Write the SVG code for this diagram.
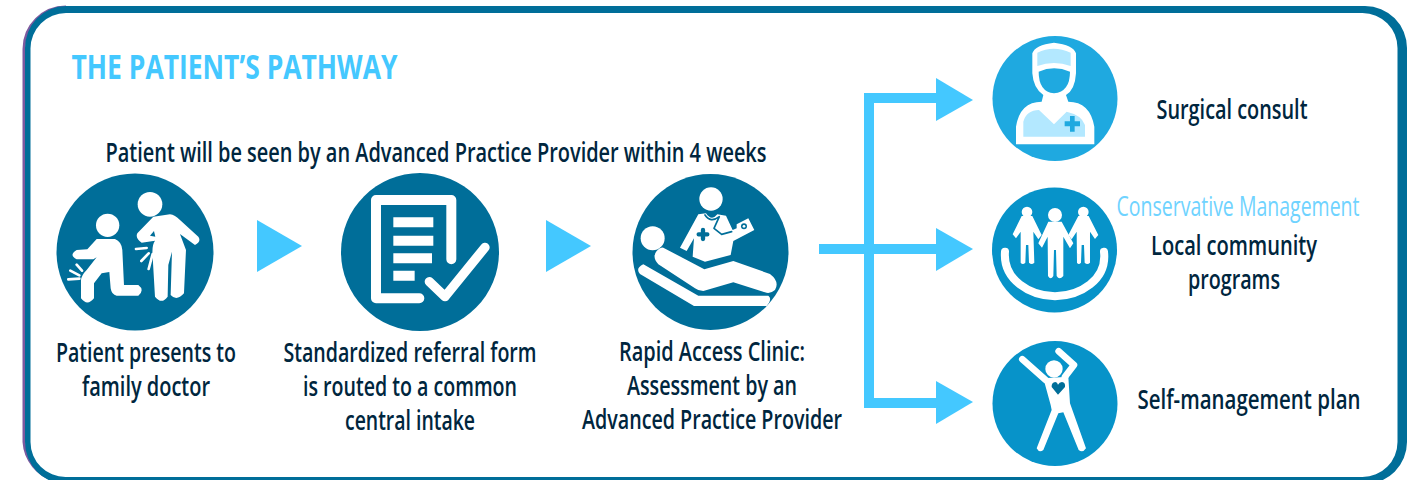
<svg xmlns="http://www.w3.org/2000/svg" width="1417" height="480" viewBox="0 0 1417 480">
<style>
text{font-family:"Open Sans","Liberation Sans",sans-serif;font-size:27px;font-weight:600;fill:#00263e;text-anchor:middle}
.w{fill:#fff}.t{fill:#006e99}.ws{fill:none;stroke:#fff;stroke-linecap:round;stroke-linejoin:round}
.ts{fill:none;stroke:#006e99;stroke-linecap:round;stroke-linejoin:round}
.a{fill:#44c8ff}.l{fill:#b3e8ff}
</style>
<g id="frame">
<path d="M66,7A42,42 0 0 0 24,49V442A42,42 0 0 0 55,480" fill="none" stroke="#7d5a9f" stroke-width="3"/>
<path fill="#006e99" fill-rule="evenodd" d="M66,6H1365A42,42 0 0 1 1407,48V442A42,42 0 0 1 1365,484H66A41,42 0 0 1 25,442V48A41,42 0 0 1 66,6ZM66,13A35.500,35.500 0 0 0 30.500,48.500V442A35,35 0 0 0 65.500,477H1362.500A35,35 0 0 0 1397.500,442V48A35,35 0 0 0 1362.500,13Z"/>
</g>
<text id="title" x="234.500" y="79" textLength="326" lengthAdjust="spacingAndGlyphs" style="font-size:34px;font-weight:700;fill:#44c8ff">THE PATIENT’S PATHWAY</text>
<text id="subtitle" x="436" y="162" textLength="661" lengthAdjust="spacingAndGlyphs">Patient will be seen by an Advanced Practice Provider within 4 weeks</text>
<g id="connectors">
<polygon class="a" points="257,220 302,246 257,272"/>
<polygon class="a" points="546,220 591,246 546,272"/>
<path d="M819,249H940M940,98H869V403H940" fill="none" stroke="#44c8ff" stroke-width="10"/>
<polygon class="a" points="936,78 973,100 936,121"/>
<polygon class="a" points="936,228 973,249 936,271"/>
<polygon class="a" points="936,381 973,402 936,424"/>
</g>
<g id="node-doctor">
<circle class="t" cx="135" cy="252" r="78.500"/>
<g transform="translate(0,170) scale(.3333)">
<circle class="w" cx="323" cy="166" r="35"/><circle class="w" cx="450" cy="103" r="37"/>
<path class="w" d="M290,207L345,207Q365,215 367,240L372,345L415,345Q435,360 415,377L350,377Q335,375 332,355L328,306L305,310L282,340L282,385Q262,410 243,385L243,330Q245,315 260,300L290,262L280,268L230,268Q205,255 230,240L262,238Z"/>
<path class="w" d="M460,140L510,133Q525,135 540,150L595,200Q605,215 585,225L540,192L558,240L552,370Q530,395 512,375L516,245L505,285L503,380Q485,405 465,380L458,260Q455,225 465,212L425,218Q405,205 412,190Z"/>
<path class="t" d="M462,183L450,197L466,200Z"/>
<path class="ws" stroke-width="8" d="M230,284L246,302M211,302L238,316M205,328L238,326M408,237L440,234M424,273L446,250M446,297L458,252"/>
</g>
</g>
<g id="node-referral">
<circle class="t" cx="420" cy="252" r="79"/>
<g transform="translate(330,180) scale(.3333)">
<path class="ws" stroke-width="30" d="M364,238V60H138V355H268"/>
<path class="w" d="M190,112h120v30h-120zM190,167h120v30h-120zM190,220h116v30h-116zM190,272h64v30h-64z"/>
<path class="ws" stroke-width="28" d="M298,305L345,350L465,202"/>
</g>
</g>
<g id="node-clinic">
<circle class="t" cx="710.500" cy="252" r="78"/>
<g transform="translate(620,175) scale(.3333)">
<circle class="w" cx="273" cy="72" r="35"/><circle class="w" cx="98" cy="190" r="36"/>
<path class="w" d="M235,118L258,115Q275,140 292,118L318,122L338,165L350,160L350,148L385,130L403,165L340,198L332,240L255,260L218,245L222,190L200,228L180,218Z"/>
<path class="ts" stroke-width="5" d="M255,120Q272,145 298,125L282,160L305,178L335,170"/>
<path class="ts" stroke-width="13" d="M236,178H262M249,165V192"/>
<circle class="t" cx="372" cy="154" r="9"/><circle class="w" cx="372" cy="154" r="4"/>
<path class="w" d="M130,218L253,283L340,258L450,297Q480,320 465,345Q450,358 435,352L340,322L250,348Q235,348 225,340L115,268Q95,245 110,228Q120,215 130,218Z"/>
<path class="w" d="M70,268L235,362L445,362Q458,372 440,393L222,393L60,297Q45,280 70,268Z"/>
</g>
</g>
<g id="node-surgical">
<circle cx="1055" cy="98.500" r="62.500" fill="#1fa9e0"/>
<g transform="translate(980,30) scale(.3333)">
<path class="w" d="M157,70Q165,45 222,38Q280,45 288,70L288,130Q285,180 258,195L265,215Q330,215 343,290L343,343L108,343L108,290Q120,215 185,215L190,195Q160,175 157,130Z"/>
<path d="M172,108V68Q220,45 272,68V108Q222,90 172,108Z" class="l"/>
<path fill="#1fa9e0" d="M176,125Q222,105 270,125Q270,185 222,190Q176,185 176,125Z"/>
<path class="l" d="M130,320V275Q140,240 177,240L222,283L260,245Q305,255 315,285V320Z"/>
<path fill="#1fa9e0" d="M270,258h14v16h16v15h-16v16h-14v-16h-16v-15h16z"/>
</g>
</g>
<g id="node-community">
<circle cx="1054.500" cy="250" r="62.500" fill="#0793c9"/>
<g transform="translate(980,180) scale(.3333)">
<path class="ws" stroke-width="24" d="M75,215C68,300 150,347 225,349C300,347 382,300 372,215"/>
<circle class="w" cx="141" cy="96" r="16"/><circle class="w" cx="310" cy="96" r="16"/><circle class="w" cx="225" cy="105" r="21"/>
<path class="w" d="M125,108H157L185,165L175,178L160,155L163,248Q155,256 147,248L145,195H138L136,248Q128,256 122,248L122,155L108,175L98,163Z"/>
<path class="w" d="M295,108H326L355,165L345,177L330,155L330,248Q322,256 314,248L312,195H305L303,248Q296,256 291,248L290,155L275,178L265,165Z"/>
<path class="w" d="M205,125H245L280,190L270,205L250,170L250,288Q238,302 230,288L228,210H222L220,288Q212,302 204,288L203,170L186,203L175,190Z"/>
</g>
</g>
<g id="node-selfmgmt">
<circle cx="1055" cy="403.500" r="62.500" fill="#0793c9"/>
<g transform="translate(980,335) scale(.3333)">
<circle class="w" cx="222" cy="102" r="26"/>
<path class="ws" stroke-width="20" d="M127,73L197,135M236,49L282,90L255,125"/>
<path class="w" d="M190,130L265,125L270,205L318,340Q308,355 296,345L250,232L235,235L190,345Q178,355 170,340L215,225L212,210Z"/>
<path d="M234,179L215,156Q214,142 226,141Q232,142 234,149Q238,142 246,141Q257,143 255,156Z" fill="#006e99"/>
</g>
</g>
<g id="labels">
<text x="146" y="362" textLength="180" lengthAdjust="spacingAndGlyphs">Patient presents to</text>
<text x="146" y="396" textLength="128" lengthAdjust="spacingAndGlyphs">family doctor</text>
<text x="410" y="362" textLength="253" lengthAdjust="spacingAndGlyphs">Standardized referral form</text>
<text x="410" y="396" textLength="214" lengthAdjust="spacingAndGlyphs">is routed to a common</text>
<text x="410" y="430" textLength="130" lengthAdjust="spacingAndGlyphs">central intake</text>
<text x="712" y="361" textLength="186" lengthAdjust="spacingAndGlyphs">Rapid Access Clinic:</text>
<text x="712" y="395" textLength="170" lengthAdjust="spacingAndGlyphs">Assessment by an</text>
<text x="712" y="429" textLength="260" lengthAdjust="spacingAndGlyphs">Advanced Practice Provider</text>
<text x="1232" y="119" textLength="151" lengthAdjust="spacingAndGlyphs">Surgical consult</text>
<text x="1238" y="216" textLength="243" lengthAdjust="spacingAndGlyphs" style="fill:#6fd3ff;font-weight:500">Conservative Management</text>
<text x="1234" y="255" textLength="166" lengthAdjust="spacingAndGlyphs">Local community</text>
<text x="1234" y="289" textLength="92" lengthAdjust="spacingAndGlyphs">programs</text>
<text x="1249" y="409" textLength="223" lengthAdjust="spacingAndGlyphs">Self-management plan</text>
</g>
</svg>
